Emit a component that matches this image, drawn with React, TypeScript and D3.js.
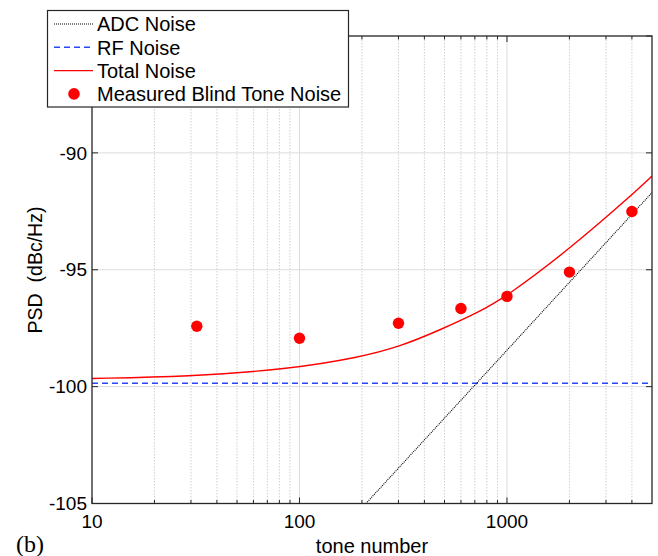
import React from "react";
import * as d3 from "d3";

// axis limits and ticks
const toneLimits = [10, 5000];
const psdLimits = [-105, -85];
const psdTicks = [-105, -100, -95, -90, -85];
const toneTicks = [10, 100, 1000];
const toneMinorTicks = [20, 30, 40, 50, 60, 70, 80, 90, 200, 300, 400, 500, 600, 700, 800, 900, 2000, 3000, 4000];

// measured blind tone noise
const measuredTones = [32, 100, 300, 600, 1000, 2000, 4000];
const measuredPsd = [-97.42, -97.93, -97.29, -96.66, -96.14, -95.1, -92.51];

// RF noise (flat)
const rfTones = [10, 5000];
const rfPsd = [-99.86, -99.86];

// ADC noise (straight line on log axis)
const adcTones = [209, 5000];
const adcPsd = [-105, -91.7];

// total noise
const totalTones = [10, 29, 88, 196, 304, 475, 741, 992, 2000, 4000, 5000];
const totalPsd = [-99.65, -99.57, -99.26, -98.74, -98.29, -97.58, -96.79, -96.15, -94.12, -91.8, -90.99];

const legendItems = ["ADC Noise", "RF Noise", "Total Noise", "Measured Blind Tone Noise"];

const W = 658;
const H = 556;
const margin = { left: 92, right: 6, top: 36, bottom: 52.5 };
const font = "'Liberation Sans', Arial, sans-serif";
const axisColor = "#262626";
const blue = "#2a46f5";

export default function App() {
  const x = d3.scaleLog().domain(toneLimits).range([margin.left, W - margin.right]);
  const y = d3.scaleLinear().domain(psdLimits).range([H - margin.bottom, margin.top]);
  const [x0, x1] = x.range();
  const [y0, y1] = y.range();

  const line = d3
    .line<[number, number]>()
    .x((d) => x(d[0]))
    .y((d) => y(d[1]));
  const smooth = d3
    .line<[number, number]>()
    .x((d) => x(d[0]))
    .y((d) => y(d[1]))
    .curve(d3.curveBasis);

  const rfPath = line(rfTones.map((t, i) => [t, rfPsd[i]]));
  const adcPath = line(adcTones.map((t, i) => [t, adcPsd[i]]));
  const totalPath = smooth(totalTones.map((t, i) => [t, totalPsd[i]]));

  const legend = { x: 47.5, y: 10.5, w: 301, h: 96.5 };
  const rowY = (i: number) => 24 + i * 23.3;

  return (
    <div style={{ position: "absolute", left: 0, top: 0 }}>
      <svg width={W} height={H} style={{ display: "block", background: "#fff" }}>
        <defs>
          <clipPath id="plot">
            <rect x={x0} y={y1} width={x1 - x0} height={y0 - y1} />
          </clipPath>
        </defs>

        {/* grid */}
        {toneMinorTicks.map((t) => (
          <line key={"mg" + t} x1={x(t)} x2={x(t)} y1={y0} y2={y1} stroke="#c4c4c4" strokeWidth={0.8} strokeDasharray="1.5,1.5" />
        ))}
        {toneTicks.slice(1).map((t) => (
          <line key={"g" + t} x1={x(t)} x2={x(t)} y1={y0} y2={y1} stroke="#dcdcdc" strokeWidth={1} />
        ))}
        {psdTicks.slice(1, -1).map((v) => (
          <line key={"gy" + v} x1={x0} x2={x1} y1={y(v)} y2={y(v)} stroke="#dcdcdc" strokeWidth={1} />
        ))}

        {/* series */}
        <g clipPath="url(#plot)" fill="none">
          <path d={rfPath || ""} stroke={blue} strokeWidth={1.5} strokeDasharray="6,4" />
          <path d={adcPath || ""} stroke="#000" strokeWidth={1.1} strokeDasharray="1,1" />
          <path d={totalPath || ""} stroke="#ff0000" strokeWidth={1.4} />
        </g>
        {measuredTones.map((t, i) => (
          <circle key={"m" + t} cx={x(t)} cy={y(measuredPsd[i])} r={5.7} fill="#ff0000" />
        ))}

        {/* axes box */}
        <rect x={x0} y={y1} width={x1 - x0} height={y0 - y1} fill="none" stroke={axisColor} strokeWidth={1.3} />
        {toneTicks.map((t) => (
          <g key={"xt" + t}>
            <line x1={x(t)} x2={x(t)} y1={y0} y2={y0 - 6} stroke={axisColor} />
            <line x1={x(t)} x2={x(t)} y1={y1} y2={y1 + 6} stroke={axisColor} />
            <text x={x(t)} y={y0 + 24} textAnchor="middle" fontFamily={font} fontSize={19} fill="#000">
              {t}
            </text>
          </g>
        ))}
        {toneMinorTicks.map((t) => (
          <g key={"xm" + t}>
            <line x1={x(t)} x2={x(t)} y1={y0} y2={y0 - 3.5} stroke={axisColor} />
            <line x1={x(t)} x2={x(t)} y1={y1} y2={y1 + 3.5} stroke={axisColor} />
          </g>
        ))}
        {psdTicks.map((v) => (
          <g key={"yt" + v}>
            <line x1={x0} x2={x0 + 6} y1={y(v)} y2={y(v)} stroke={axisColor} />
            <line x1={x1} x2={x1 - 6} y1={y(v)} y2={y(v)} stroke={axisColor} />
            <text x={x0 - 5} y={y(v)} dy="0.35em" textAnchor="end" fontFamily={font} fontSize={19} fill="#000">
              {v}
            </text>
          </g>
        ))}

        {/* axis labels */}
        <text x={(x0 + x1) / 2} y={553} textAnchor="middle" fontFamily={font} fontSize={20} fill="#000">
          tone number
        </text>
        <text
          transform={`translate(41.5, 270) rotate(-90)`}
          textAnchor="middle"
          fontFamily={font}
          fontSize={19.5}
          fill="#000"
          style={{ whiteSpace: "pre" }}
        >
          {"PSD  (dBc/Hz)"}
        </text>
        <text x={16} y={552} fontFamily="'Liberation Serif', 'Times New Roman', serif" fontSize={24} fill="#000">
          (b)
        </text>

        {/* legend */}
        <rect x={legend.x} y={legend.y} width={legend.w} height={legend.h} fill="#fff" stroke={axisColor} strokeWidth={1.2} />
        <line x1={54} x2={93} y1={rowY(0)} y2={rowY(0)} stroke="#000" strokeWidth={1.1} strokeDasharray="1,1" />
        <line x1={54} x2={93} y1={rowY(1)} y2={rowY(1)} stroke={blue} strokeWidth={1.5} strokeDasharray="6,4" />
        <line x1={54} x2={93} y1={rowY(2)} y2={rowY(2)} stroke="#ff0000" strokeWidth={1.4} />
        <circle cx={74} cy={rowY(3)} r={5.8} fill="#ff0000" />
        {legendItems.map((label, i) => (
          <text key={label} x={97} y={rowY(i)} dy="0.36em" fontFamily={font} fontSize={20} fill="#000">
            {label}
          </text>
        ))}
      </svg>
    </div>
  );
}
